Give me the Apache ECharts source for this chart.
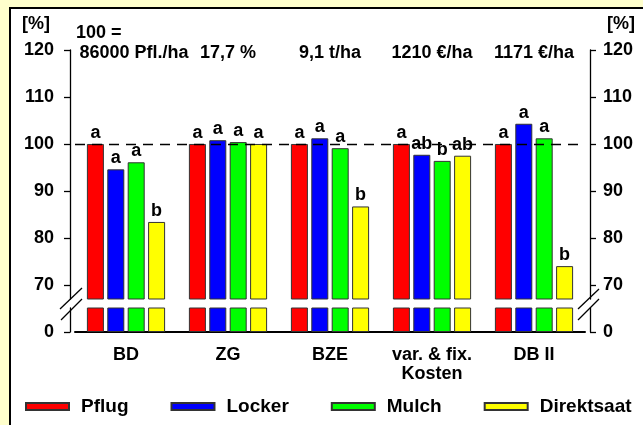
<!DOCTYPE html>
<html><head><meta charset="utf-8">
<script src="https://cdn.jsdelivr.net/npm/echarts@6/dist/echarts.min.js"></script>
<style>
html,body{margin:0;padding:0;background:#ffffcc;overflow:hidden;}
#chart{position:absolute;left:0;top:0;width:643px;height:425px;}
</style></head><body>
<div id="chart"></div>
<script>
const categories = ['BD', 'ZG', 'BZE', 'var. & fix.\nKosten', 'DB II'];
const refValues = ['86000 Pfl./ha', '17,7 %', '9,1 t/ha', '1210 €/ha', '1171 €/ha'];
const seriesNames = ['Pflug', 'Locker', 'Mulch', 'Direktsaat'];
const pflug = [100, 100, 100, 100, 100];
const locker = [94.6, 100.8, 101.2, 97.7, 104.3];
const mulch = [96.1, 100.4, 99.1, 96.4, 101.2];
const direktsaat = [83.4, 100.0, 86.7, 97.5, 74.0];
const pflugSig = ['a', 'a', 'a', 'a', 'a'];
const lockerSig = ['a', 'a', 'a', 'ab', 'a'];
const mulchSig = ['a', 'a', 'a', 'b', 'a'];
const direktSig = ['b', 'a', 'b', 'ab', 'b'];
const upperTicks = [70, 80, 90, 100, 110, 120];
const lowerTicks = [0];
const referenceLine = 100;

const values = [pflug, locker, mulch, direktsaat];
const sigs = [pflugSig, lockerSig, mulchSig, direktSig];
const colors = ['#ff0000', '#0000ff', '#00ff00', '#ffff00'];
const FONT = 'Liberation Sans, Arial, sans-serif';
const txt = (size) => ({ color: '#000', fontWeight: 'bold', fontSize: size, fontFamily: FONT });

const chart = echarts.init(document.getElementById('chart'), null, { renderer: 'canvas' });

const series = [];
seriesNames.forEach((name, i) => {
  const upper = {
    name, type: 'bar', xAxisIndex: 0, yAxisIndex: 0, data: values[i],
    barWidth: 17, barGap: '20%',
    itemStyle: { color: colors[i], borderColor: '#333', borderWidth: 1 },
    label: {
      show: true, position: 'top', distance: 2,
      formatter: (p) => sigs[i][p.dataIndex], ...txt(18)
    },
    emphasis: { disabled: true }
  };
  if (i === 0) {
    upper.markLine = {
      silent: true, symbol: 'none', label: { show: false },
      lineStyle: { color: '#000', width: 1.3, type: [10, 7] },
      data: [{ yAxis: referenceLine }]
    };
  }
  series.push(upper);
  series.push({
    name, type: 'bar', xAxisIndex: 2, yAxisIndex: 2, data: values[i],
    barWidth: 17, barGap: '20%', clip: true,
    itemStyle: { color: colors[i], borderColor: '#333', borderWidth: 1 },
    emphasis: { disabled: true }
  });
});

const yCommon = (min, max, ticks, pos) => ({
  type: 'value', min, max, position: pos, offset: 5,
  splitLine: { show: false },
  axisLine: { show: true, lineStyle: { color: '#000', width: 1.3 } },
  axisTick: { show: true, length: 6, customValues: ticks, lineStyle: { color: '#000', width: 1.3 } },
  axisLabel: { customValues: ticks, margin: pos === 'left' ? 16 : 13, ...txt(18) }
});

const breakLine = (x1, y1, x2, y2) => ({
  type: 'line', silent: true, z: 10,
  shape: { x1, y1, x2, y2 },
  style: { stroke: '#000', lineWidth: 1.3 }
});

chart.setOption({
  animation: false,
  backgroundColor: '#ffffcc',
  title: [
    { text: '[%]', left: 22, top: 15, padding: 0, textStyle: txt(18) },
    { text: '100 =', left: 76, top: 24, padding: 0, textStyle: txt(18) },
    { text: '[%]', right: 8, top: 15, padding: 0, textStyle: txt(18) }
  ],
  legend: {
    data: seriesNames, left: 25, top: 397, itemGap: 42, padding: 0, width: 640,
    itemWidth: 43, itemHeight: 7, icon: 'rect',
    selectedMode: false,
    textStyle: { ...txt(19), padding: [0, 0, 0, 7] }
  },
  grid: [
    { left: 75, right: 58, top: 50, height: 249 },
    { left: 75, right: 58, top: 308, height: 24 }
  ],
  xAxis: [
    { gridIndex: 0, type: 'category', data: categories, show: false },
    {
      gridIndex: 0, type: 'category', data: refValues, position: 'top',
      axisLine: { show: false }, axisTick: { show: false },
      axisLabel: {
        margin: -12, interval: 0, ...txt(18),
        formatter: (v, idx) => idx === 0 ? '{f|' + v + '}' : v,
        rich: { f: { ...txt(18), padding: [0, 0, 0, 16] } }
      }
    },
    {
      gridIndex: 1, type: 'category', data: categories, position: 'bottom',
      axisLine: { show: true, lineStyle: { color: '#000', width: 2 } },
      axisTick: { show: false },
      axisLabel: { margin: 14, interval: 0, lineHeight: 19, ...txt(18) }
    }
  ],
  yAxis: [
    { gridIndex: 0, ...yCommon(67, 120, upperTicks, 'left') },
    { gridIndex: 0, ...yCommon(67, 120, upperTicks, 'right') },
    { gridIndex: 1, ...yCommon(0, 5, lowerTicks, 'left') },
    { gridIndex: 1, ...yCommon(0, 5, lowerTicks, 'right') }
  ],
  series,
  graphic: [
    {
      type: 'rect', silent: true, z: -10,
      shape: { x: 10, y: 8, width: 700, height: 500 },
      style: { fill: '#ffffff', stroke: '#000', lineWidth: 2 }
    },
    breakLine(60, 309, 82, 288), breakLine(61, 320, 82, 299),
    breakLine(578, 309, 599, 289), breakLine(578, 320, 599, 299)
  ]
});
</script>
</body></html>
